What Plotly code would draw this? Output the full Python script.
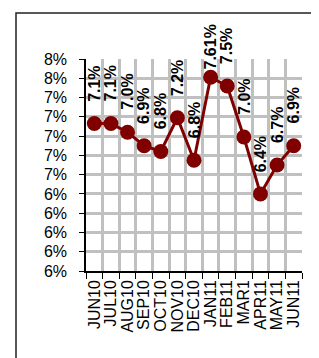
import numpy as np
import plotly.graph_objects as go

# ---- data ----
months = ["JUN10", "JUL10", "AUG10", "SEP10", "OCT10", "NOV10", "DEC10",
          "JAN11", "FEB11", "MAR1", "APR11", "MAY11", "JUN11"]
rates = [7.13, 7.13, 7.04, 6.90, 6.84, 7.19, 6.75, 7.61, 7.52, 6.99, 6.40, 6.70, 6.90]
rate_labels = ["7.1%", "7.1%", "7.0%", "6.9%", "6.8%", "7.2%", "6.8%",
               "7.61%", "7.5%", "7.0%", "6.4%", "6.7%", "6.9%"]
y_min, y_max, y_step = 5.6, 7.8, 0.2

# ---- layout constants ----
W, H = 319, 358
ML, MR, MT, MB = 78, 25, 51, 95
FONT = "Liberation Sans, Arial, sans-serif"
RED = "#800000"
GRID = "#c0c0c0"

xs = list(range(len(months)))
yticks = [float(v) for v in np.round(np.arange(y_min, y_max + y_step / 2, y_step), 1)]
ytick_text = ["%.0f%%" % v for v in yticks]

fig = go.Figure()
fig.add_trace(go.Scatter(
    x=xs, y=rates, mode="lines+markers",
    line=dict(color=RED, width=3),
    marker=dict(color=RED, size=15),
    hoverinfo="skip", showlegend=False,
))

# data labels, rotated, above points; clamp so they stay inside the frame
plot_h = H - MT - MB
px_per_unit = plot_h / (y_max - y_min)
label_font = 16
for x, v, t in zip(xs, rates, rate_labels):
    py = MT + (y_max - v) * px_per_unit
    est_len = label_font * (0.556 * (len(t) - 2) + 0.278 + 0.889)
    shift = 20
    min_top = 18
    if py - shift - est_len < min_top:
        shift = py - est_len - min_top
    fig.add_annotation(
        x=x, y=v, text="<b>%s</b>" % t, textangle=-90,
        showarrow=False, xanchor="center", yanchor="bottom", yshift=shift,
        font=dict(family=FONT, size=label_font, color="black"),
    )

# outer chart frame (only top/left edges are within view)
fig.add_shape(type="rect", xref="paper", yref="paper",
              x0=(8 - ML) / (W - ML - MR), x1=3,
              y0=-3, y1=1 + (MT - 5) / plot_h,
              line=dict(color="#222222", width=1.5), layer="below")

fig.update_layout(
    width=W, height=H,
    margin=dict(l=ML, r=MR, t=MT, b=MB, pad=0),
    paper_bgcolor="white", plot_bgcolor="white",
    font=dict(family=FONT, color="black"),
    xaxis=dict(
        range=[-0.5, len(months) - 0.5],
        tickvals=xs, ticktext=months, tickangle=-90,
        ticks="", showgrid=False, zeroline=False,
        showline=True, linecolor="black", linewidth=1.5,
        tickfont=dict(family=FONT, size=16, color="black"),
        ticklabelstandoff=1,
        minor=dict(tickvals=[i - 0.5 for i in range(len(months) + 1)],
                   showgrid=True, gridcolor=GRID, gridwidth=2.5,
                   ticks="outside", ticklen=6, tickcolor="black", tickwidth=1),
    ),
    yaxis=dict(
        range=[y_min, y_max],
        tickvals=yticks, ticktext=ytick_text,
        ticks="outside", ticklen=5, tickcolor="black", tickwidth=1,
        showgrid=True, gridcolor=GRID, gridwidth=2.5, zeroline=False,
        showline=True, linecolor="black", linewidth=1.5,
        tickfont=dict(family=FONT, size=16, color="black"),
        ticklabelstandoff=9,
    ),
)

fig.write_html("out.html")
